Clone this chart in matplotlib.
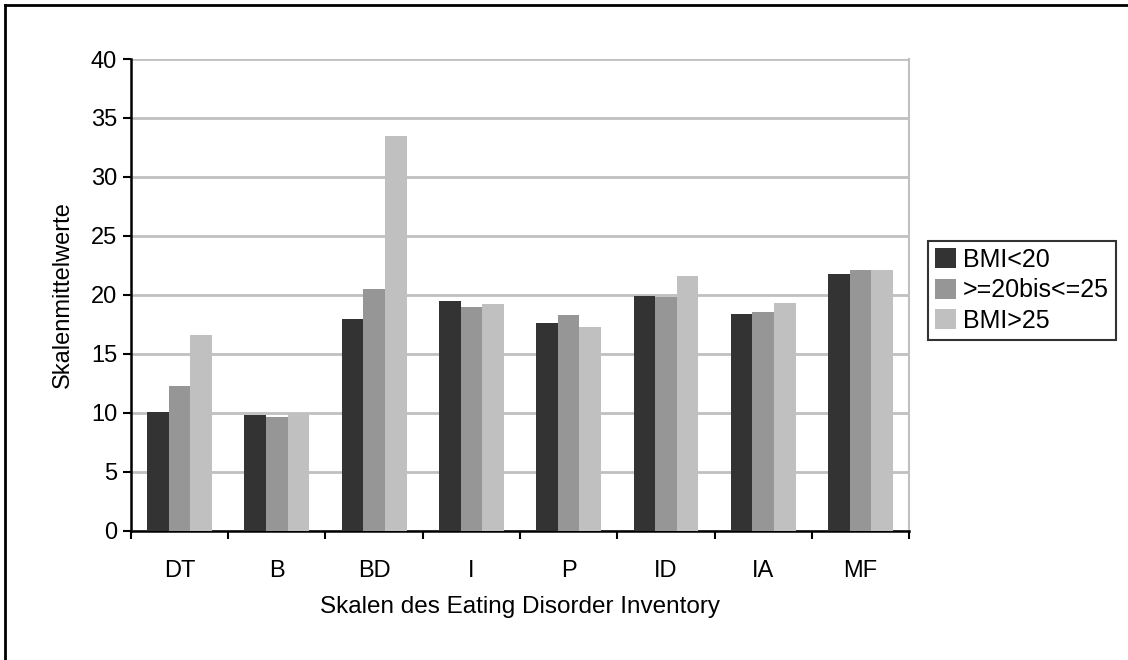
import matplotlib
matplotlib.use("Agg")
import matplotlib.pyplot as plt
import numpy as np
from matplotlib.lines import Line2D

# Daten
skalen = ["DT", "B", "BD", "I", "P", "ID", "IA", "MF"]
bmi_unter_20 = [10.05, 9.8, 17.95, 19.45, 17.6, 19.95, 18.4, 21.8]
bmi_20_25 = [12.3, 9.65, 20.5, 18.95, 18.3, 19.85, 18.6, 22.1]
bmi_ueber_25 = [16.6, 10.0, 33.5, 19.25, 17.25, 21.6, 19.3, 22.1]
gruppen = ["BMI<20", ">=20bis<=25", "BMI>25"]
farben = ["#333333", "#969696", "#c0c0c0"]

plt.rcParams["font.family"] = ["Liberation Sans", "DejaVu Sans"]
plt.rcParams["font.size"] = 17

fig = plt.figure(figsize=(11.28, 6.6), dpi=100)
ax = fig.add_axes([0.1161, 0.1955, 0.8059 - 0.1161, 0.9106 - 0.1955])

x = np.arange(len(skalen))
breite = 0.222
for i, (werte, name) in enumerate(zip([bmi_unter_20, bmi_20_25, bmi_ueber_25], gruppen)):
    ax.bar(x + (i - 1) * breite, werte, breite, color=farben[i], label=name, zorder=3)

ax.set_xlim(-0.5, len(skalen) - 0.5)
ax.set_ylim(0, 40)
ax.set_yticks(np.arange(0, 41, 5))
ax.yaxis.grid(True, color="#c0c0c0", linewidth=2, zorder=0)

# Striche zwischen den Kategorien, Beschriftung in der Mitte
ax.set_xticks(np.arange(-0.5, len(skalen)), minor=False)
ax.set_xticklabels([])
ax.set_xticks(x, minor=True)
ax.set_xticklabels(skalen, minor=True)
ax.tick_params(axis="x", which="major", length=6, width=1.5, direction="out")
ax.tick_params(axis="x", which="minor", length=0, pad=21)
ax.tick_params(axis="y", length=6, width=1.5, direction="out", pad=4)

for s in ["left", "bottom"]:
    ax.spines[s].set_linewidth(1.8)
    ax.spines[s].set_color("black")
ax.spines["right"].set_color("#c0c0c0")
ax.spines["right"].set_linewidth(1.5)
ax.spines["top"].set_visible(False)

ax.set_xlabel("Skalen des Eating Disorder Inventory", labelpad=10, fontsize=17.5)
ax.set_ylabel("Skalenmittelwerte", labelpad=12)

leg = ax.legend(loc="center left", bbox_to_anchor=(1.024, 0.51), frameon=True, fontsize=18,
                fancybox=False, edgecolor="black", handlelength=0.85, handleheight=0.85,
                handletextpad=0.25, borderpad=0.3, labelspacing=0.25, borderaxespad=0)
leg.get_frame().set_linewidth(1.5)

# Rahmen links und oben
fig.add_artist(Line2D([0.004, 0.004], [0, 0.993], color="black", linewidth=2, transform=fig.transFigure))
fig.add_artist(Line2D([0.004, 1.0], [0.993, 0.993], color="black", linewidth=2, transform=fig.transFigure))

fig.savefig("out.png", dpi=100)
